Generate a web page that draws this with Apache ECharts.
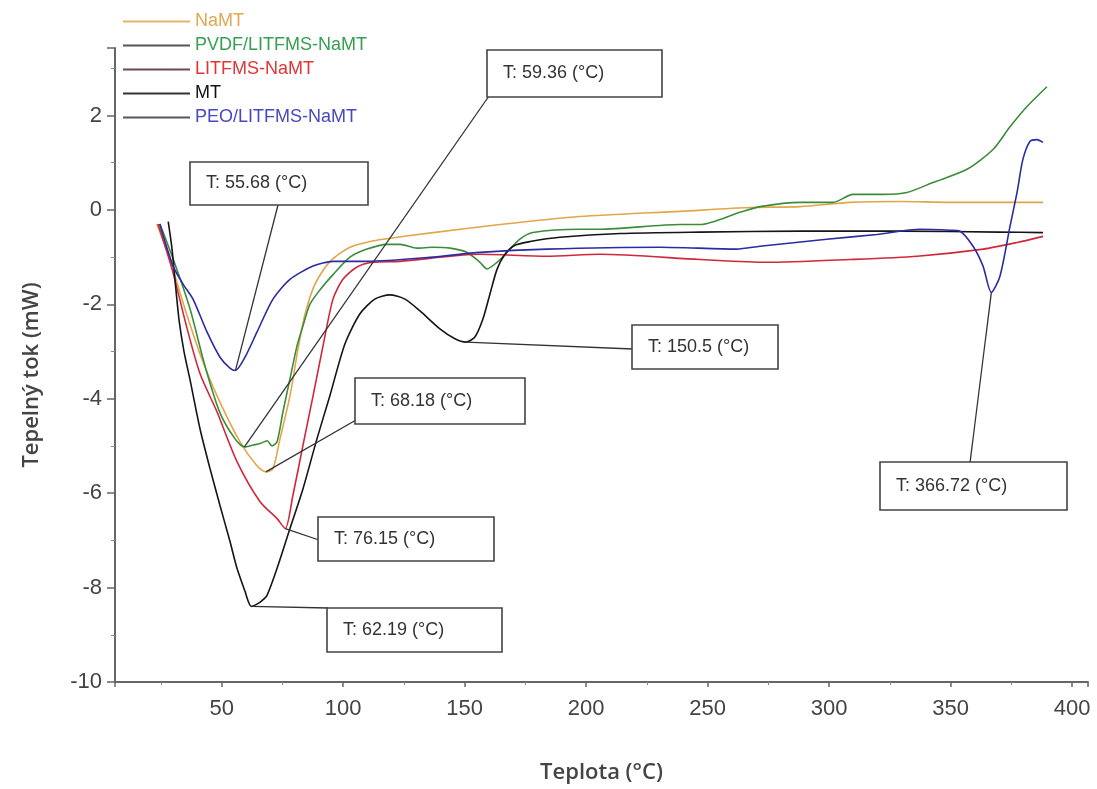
<!DOCTYPE html>
<html><head><meta charset="utf-8">
<script src="https://cdn.jsdelivr.net/npm/echarts@6/dist/echarts.min.js"></script>
<style>html,body{margin:0;padding:0;background:#fff}#c{width:1097px;height:789px}</style>
</head><body><div id="c"></div>
<script>
// ---------- DATA ----------
const seriesNames = ['NaMT', 'PVDF/LITFMS-NaMT', 'LITFMS-NaMT', 'MT', 'PEO/LITFMS-NaMT'];

const namtT = [23.3, 28.7, 34.9, 41.1, 48.1, 57.5, 64.5, 68.18, 71.1, 74, 78.1, 81.4, 84.3, 88.4, 94.6, 102.8, 111, 116.5, 137, 164.5, 197.4, 238.6, 267.4, 288, 308.6, 329.2, 349.8, 370.3, 388];
const namtQ = [-0.3, -1.05, -2.1, -3.05, -3.94, -4.91, -5.42, -5.55, -5.48, -4.85, -3.94, -2.95, -2.21, -1.57, -1.09, -0.79, -0.67, -0.62, -0.48, -0.31, -0.14, -0.03, 0.05, 0.07, 0.16, 0.18, 0.16, 0.16, 0.16];

const pvdfT = [24.6, 30.8, 37, 43.1, 49.3, 55.5, 59.36, 63, 65.8, 68.7, 70.7, 72.8, 75.2, 78.1, 81, 83.5, 86.3, 90.5, 95.8, 102.8, 109.8, 118, 123.4, 130.4, 137, 144, 151, 156.3, 159.2, 163.3, 167.4, 172.7, 178.1, 197.4, 205.7, 238.6, 246.8, 263.3, 271.5, 288, 301.6, 309.8, 322.1, 332, 342.7, 356.7, 367.4, 374.4, 381.4, 389.6];
const pvdfQ = [-0.3, -1.15, -2.1, -3.3, -4.3, -4.85, -5.02, -4.98, -4.95, -4.89, -5.0, -4.91, -4.28, -3.58, -2.88, -2.45, -2.0, -1.69, -1.37, -1.0, -0.83, -0.73, -0.73, -0.81, -0.79, -0.81, -0.9, -1.11, -1.25, -1.11, -0.9, -0.62, -0.48, -0.41, -0.41, -0.31, -0.31, -0.05, 0.07, 0.16, 0.16, 0.33, 0.33, 0.37, 0.58, 0.86, 1.28, 1.76, 2.19, 2.61];

const litT = [23.8, 29.6, 35.8, 41.1, 48.1, 56.3, 65.8, 72.8, 76.15, 79.3, 83.4, 87.6, 91.7, 95.8, 99.9, 105.7, 112.3, 123.4, 156.3, 183.8, 205.7, 246.8, 274.4, 308.6, 336.2, 363.4, 377.3, 388];
const litQ = [-0.3, -1.26, -2.52, -3.47, -4.28, -5.33, -6.18, -6.54, -6.75, -6.05, -5.0, -3.94, -2.88, -1.89, -1.47, -1.21, -1.11, -1.09, -0.94, -0.98, -0.94, -1.05, -1.11, -1.05, -0.98, -0.83, -0.69, -0.56];

const mtT = [28, 29.5, 31, 32.5, 34.5, 36.9, 41.1, 45.2, 49.3, 53.4, 56.3, 59.6, 61, 62.19, 64.5, 66.5, 68.6, 72.8, 78.1, 83.5, 89.2, 94.5, 100.7, 106.9, 113, 119.2, 125.4, 131.6, 139.8, 146, 150.5, 154.2, 157.5, 160.4, 163.3, 166.6, 170.7, 176.9, 189.2, 214, 246.8, 288, 329, 370, 388];
const mtQ = [-0.25, -0.8, -1.6, -2.35, -3.0, -3.58, -4.64, -5.48, -6.26, -7.02, -7.59, -8.08, -8.3, -8.4, -8.35, -8.28, -8.17, -7.59, -6.75, -5.9, -4.85, -3.94, -2.84, -2.2, -1.89, -1.8, -1.89, -2.14, -2.52, -2.73, -2.8, -2.69, -2.31, -1.78, -1.26, -0.94, -0.75, -0.67, -0.58, -0.5, -0.47, -0.45, -0.45, -0.47, -0.48];

const peoT = [24.5, 30, 34.1, 38.2, 44, 49.3, 53.4, 55.68, 59.6, 64.5, 71.1, 78.1, 87.6, 95.8, 109.8, 137, 156.3, 183.8, 230.4, 262, 271.5, 299, 319.6, 337.3, 349.7, 353.8, 359.2, 363.3, 366.72, 370.3, 374.4, 377.3, 379.7, 382.6, 385.5, 388];
const peoQ = [-0.3, -1.19, -1.57, -1.89, -2.59, -3.12, -3.35, -3.4, -3.12, -2.59, -1.89, -1.47, -1.19, -1.09, -1.09, -1.0, -0.9, -0.83, -0.79, -0.83, -0.77, -0.62, -0.52, -0.41, -0.43, -0.45, -0.77, -1.19, -1.75, -1.4, -0.35, 0.37, 1.07, 1.45, 1.49, 1.43];

// annotated peaks: series name + temperature (value taken from series data)
const peakSeries = ['PVDF/LITFMS-NaMT', 'PEO/LITFMS-NaMT', 'NaMT', 'LITFMS-NaMT', 'MT', 'MT', 'PEO/LITFMS-NaMT'];
const peakTemps  = [59.36, 55.68, 68.18, 76.15, 62.19, 150.5, 366.72];

// ---------- STYLE / LAYOUT ----------
const lineColors = ['#e2a64a', '#3b8c3b', '#d0283a', '#151515', '#2b2ba3'];
const legendLineColors = ['#e6b46a', '#555555', '#6b4a52', '#333333', '#555566'];
const legendTextColors = ['#e0a850', '#35a050', '#e03535', '#111111', '#4848c0'];
// annotation box layout in pixels: box x, y, w, h, leader end x, y
const boxLayout = [
  [487, 50, 175, 47, 489, 96],
  [190, 162, 178, 43, 278, 205],
  [355, 378, 170, 46, 356, 420],
  [318, 517, 176, 44, 319, 540],
  [327, 608, 175, 44, 328, 608],
  [632, 325, 146, 44, 633, 349],
  [880, 462, 187, 48, 970, 463]
];

const zip = (a, b) => a.map((v, i) => [v, b[i]]);
const seriesData = [zip(namtT, namtQ), zip(pvdfT, pvdfQ), zip(litT, litQ), zip(mtT, mtQ), zip(peoT, peoQ)];

const chart = echarts.init(document.getElementById('c'), null, {renderer: 'canvas'});

const titleStyle = {fontSize: 22, fontFamily: 'Open Sans', fontWeight: 600, color: '#444'};

const option = {
  backgroundColor: '#fff',
  animation: false,
  grid: {left: 115, right: 9, top: 48, bottom: 105, containLabel: false},
  legend: {
    orient: 'vertical', left: 118, top: 7,
    itemWidth: 67, itemHeight: 2, itemGap: 5,
    icon: 'rect',
    textStyle: {fontSize: 18, lineHeight: 19, fontFamily: 'Liberation Sans'},
    data: seriesNames.map((n, i) => ({
      name: n, icon: 'rect',
      itemStyle: {color: legendLineColors[i]},
      lineStyle: {color: legendLineColors[i]},
      textStyle: {color: legendTextColors[i], fontSize: 18, lineHeight: 19, fontFamily: 'Liberation Sans'}
    }))
  },
  xAxis: {
    type: 'value', min: 6.1, max: 406.5, splitNumber: 8,
    name: 'Teplota (°C)', nameLocation: 'middle', nameGap: 80,
    nameTextStyle: titleStyle,
    axisLine: {show: true, onZero: false, lineStyle: {color: '#666', width: 2}},
    axisTick: {show: true, length: 5, lineStyle: {color: '#666', width: 1.5}},
    minorTick: {show: true, splitNumber: 2, length: 3, lineStyle: {color: '#888'}},
    axisLabel: {
      fontSize: 22, color: '#444', margin: 16, fontFamily: 'Liberation Sans',
      formatter: v => (Math.abs(v % 50) < 1e-6 ? String(v) : '')
    },
    splitLine: {show: false}
  },
  yAxis: {
    type: 'value', min: -10, max: 3.43, interval: 2,
    name: 'Tepelný tok (mW)', nameLocation: 'middle', nameGap: 72,
    nameTextStyle: Object.assign({}, titleStyle, {padding: [0, 20, 0, 0]}),
    axisLine: {show: true, onZero: false, lineStyle: {color: '#666', width: 2}},
    axisTick: {show: true, length: 8, lineStyle: {color: '#666', width: 1.5}},
    minorTick: {show: true, splitNumber: 2, length: 4, lineStyle: {color: '#888'}},
    axisLabel: {
      fontSize: 22, color: '#444', margin: 13, fontFamily: 'Liberation Sans',
      formatter: v => (Math.abs(v % 2) < 1e-6 ? String(v) : '')
    },
    splitLine: {show: false}
  },
  series: seriesNames.map((n, i) => ({
    name: n, type: 'line', data: seriesData[i],
    showSymbol: false, smooth: 0.25,
    lineStyle: {color: lineColors[i], width: 1.6},
    itemStyle: {color: lineColors[i]},
    z: 2
  }))
};
chart.setOption(option);

const graphics = [];
peakTemps.forEach((t, i) => {
  const sIdx = seriesNames.indexOf(peakSeries[i]);
  const pt = seriesData[sIdx].find(d => d[0] === t);
  const p = chart.convertToPixel({gridIndex: 0}, pt);
  const [bx, by, bw, bh, lx, ly] = boxLayout[i];
  graphics.push({type: 'line', z: 100, shape: {x1: p[0], y1: p[1], x2: lx, y2: ly}, style: {stroke: '#333', lineWidth: 1.3}});
  graphics.push({type: 'rect', z: 101, shape: {x: bx, y: by, width: bw, height: bh}, style: {fill: '#fff', stroke: '#444', lineWidth: 1.6}});
  graphics.push({type: 'text', z: 102, x: bx + 16, y: by + bh / 2,
    style: {text: 'T: ' + t + ' (°C)', font: '18px "Liberation Sans"', fill: '#333', verticalAlign: 'middle', align: 'left'}});
});
chart.setOption({graphic: graphics});
</script>
</body></html>
